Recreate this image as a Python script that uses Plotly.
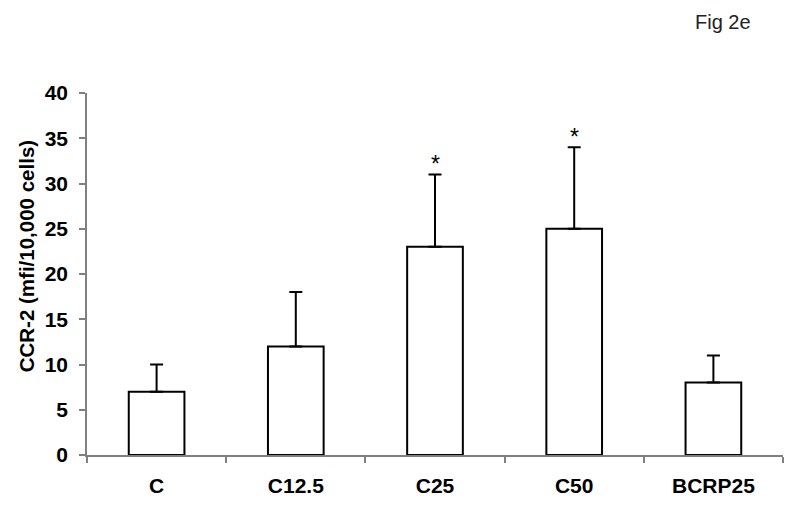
import plotly.graph_objects as go

categories = ["C", "C12.5", "C25", "C50", "BCRP25"]
means = [7, 12, 23, 25, 8]
errors = [3, 6, 8, 9, 3]
significance = ["", "", "*", "*", ""]
y_ticks = [0, 5, 10, 15, 20, 25, 30, 35, 40]

FONT = "Liberation Sans, Arial, sans-serif"

fig = go.Figure()
fig.add_trace(go.Bar(
    x=categories, y=means,
    marker=dict(color="white", line=dict(color="black", width=2)),
    error_y=dict(type="data", array=errors, symmetric=False, arrayminus=[0]*len(errors),
                 color="black", thickness=2, width=6.5),
    width=0.4,
))

for cat, m, e, s in zip(categories, means, errors, significance):
    if s:
        fig.add_annotation(x=cat, y=m + e, text=s, showarrow=False,
                           yanchor="bottom", yshift=-5,
                           font=dict(family=FONT, size=23, color="black"))

fig.add_annotation(xref="paper", yref="paper", x=-0.0876, y=0.549,
                   text="<b>CCR-2 (mfi/10,000 cells)</b>", textangle=-90,
                   showarrow=False, xanchor="center", yanchor="middle",
                   font=dict(family=FONT, size=20.5, color="black"))

fig.add_annotation(xref="paper", yref="paper", x=(723 - 87) / 696, y=(455 - 22) / 362.3,
                   text="Fig 2e", showarrow=False, xanchor="center", yanchor="middle",
                   font=dict(family=FONT, size=20, color="#222222"))

# page body adds an 8px offset; margins compensate so the plot lands where the reference has it
fig.update_layout(
    width=800, height=510,
    margin=dict(l=79, r=25, t=85, b=63),
    plot_bgcolor="white", paper_bgcolor="white",
    showlegend=False,
    font=dict(family=FONT, color="black"),
)
fig.update_xaxes(
    showline=True, linecolor="#808080", linewidth=1.5,
    ticks="outside", tickson="boundaries", ticklen=6, tickcolor="#808080", tickwidth=1.5,
    tickfont=dict(family=FONT, size=21, color="black", weight="bold"),
    ticklabelstandoff=11,
    showgrid=False, zeroline=False,
)
fig.update_yaxes(
    range=[0, 40], tickvals=y_ticks,
    showline=True, linecolor="#808080", linewidth=1.5,
    ticks="outside", ticklen=6, tickcolor="#808080", tickwidth=1.5,
    tickfont=dict(family=FONT, size=21, color="black", weight="bold"),
    ticklabelstandoff=7,
    showgrid=False, zeroline=False,
)

fig.write_html("out.html")
